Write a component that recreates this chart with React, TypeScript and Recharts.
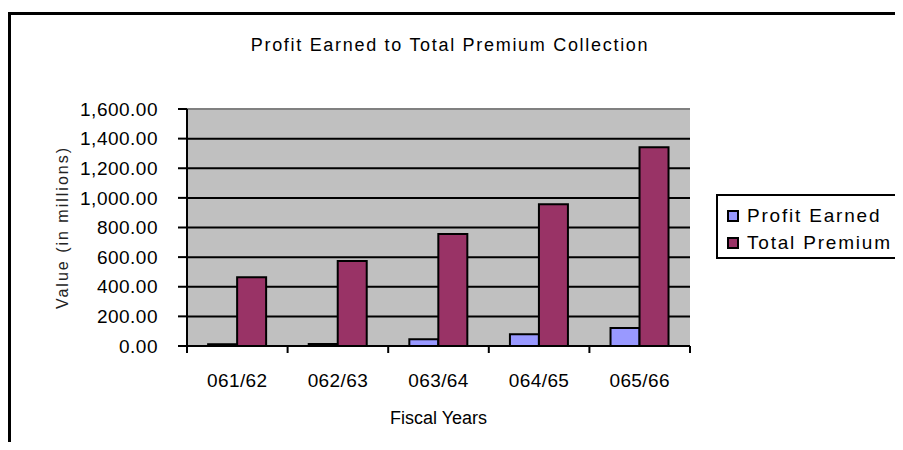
import { BarChart, Bar, XAxis, YAxis, CartesianGrid, ReferenceLine } from 'recharts';

const fiscalYears = ['061/62', '062/63', '063/64', '064/65', '065/66'];
const profitEarned = [12, 14, 45, 79, 122];
const totalPremium = [464, 574, 756, 957, 1341];
const yTicks = [0, 200, 400, 600, 800, 1000, 1200, 1400, 1600];

const seriesNames = ['Profit Earned', 'Total Premium'];
const seriesColors = ['#9999FF', '#993366'];

const data = fiscalYears.map((year, i) => ({
  year,
  profit: profitEarned[i],
  premium: totalPremium[i],
}));

const FONT = '"Liberation Sans", Arial, sans-serif';

const fmt = (v: number) =>
  v.toLocaleString('en-US', { minimumFractionDigits: 2, maximumFractionDigits: 2 });

function YLabel({ viewBox }: any) {
  const x = viewBox.x + 54;
  const y = viewBox.y + viewBox.height / 2;
  return (
    <text x={x} y={y} transform={`rotate(-90 ${x} ${y})`} textAnchor="middle" dominantBaseline="central"
      fontSize={16} letterSpacing={2} fill="#222" fontFamily={FONT}>
      Value (in millions)
    </text>
  );
}

function XLabel({ viewBox }: any) {
  const x = viewBox.x + viewBox.width / 2;
  return (
    <text x={x} y={viewBox.y + 72} textAnchor="middle" dominantBaseline="central"
      fontSize={18} fill="#000" fontFamily={FONT}>
      Fiscal Years
    </text>
  );
}

// category tick: label at band centre, tick marks at band edges
function YearTick({ x, y, payload, index, visibleTicksCount }: any) {
  const half = payload.offset || 0;
  const last = index === visibleTicksCount - 1;
  return (
    <g>
      <line x1={x - half} x2={x - half} y1={y} y2={y + 7} stroke="#000" strokeWidth={2} />
      {last && <line x1={x + half} x2={x + half} y1={y} y2={y + 7} stroke="#000" strokeWidth={2} />}
      <text x={x} y={y + 34} textAnchor="middle" dominantBaseline="central" fontSize={19}
        letterSpacing={0.4} fill="#000" fontFamily={FONT}>
        {payload.value}
      </text>
    </g>
  );
}

export default function App() {
  return (
    <div style={{ position: 'relative', width: 895, height: 434, fontFamily: FONT }}>
      <div style={{ position: 'absolute', left: 0, top: 4, width: 895, height: 430, borderTop: '3px solid #000', borderLeft: '3px solid #000', boxSizing: 'border-box' }} />
      <div style={{ position: 'absolute', left: 192, top: 27, width: 500, textAlign: 'center', fontSize: 18, letterSpacing: 1.7, color: '#000' }}>
        Profit Earned to Total Premium Collection
      </div>
      <div style={{ position: 'absolute', left: 0, top: 0 }}>
        <BarChart width={895} height={434} data={data} margin={{ top: 101, right: 213, bottom: 0, left: 0 }}
          barCategoryGap="21%" barGap={0}>
          <CartesianGrid vertical={false} fill="#C0C0C0" stroke="#000" strokeWidth={2} fillOpacity={1} />
          <XAxis dataKey="year" height={96} tickLine={false} tickSize={0} tickMargin={0}
            axisLine={{ stroke: '#000', strokeWidth: 2 }} tick={<YearTick />} interval={0} label={<XLabel />} />
          <YAxis width={179} domain={[0, 1600]} ticks={yTicks} tickFormatter={fmt} tickSize={9} tickMargin={20}
            tick={{ fontSize: 19, fill: '#000', letterSpacing: 0.5 }} axisLine={{ stroke: '#000', strokeWidth: 2 }}
            tickLine={{ stroke: '#000', strokeWidth: 2 }} label={<YLabel />} />
          <YAxis yAxisId="edge" orientation="right" width={0} domain={[0, 1600]} tick={false} tickLine={false}
            axisLine={{ stroke: '#808080', strokeWidth: 2 }} />
          <ReferenceLine y={1600} stroke="#808080" strokeWidth={2} />
          <Bar dataKey="profit" name={seriesNames[0]} fill={seriesColors[0]} stroke="#000" strokeWidth={2} isAnimationActive={false} />
          <Bar dataKey="premium" name={seriesNames[1]} fill={seriesColors[1]} stroke="#000" strokeWidth={2} isAnimationActive={false} />
        </BarChart>
      </div>
      <div style={{ position: 'absolute', left: 708, top: 186, width: 187, height: 65, border: '2px solid #000', borderRight: 'none', boxSizing: 'border-box', padding: '6px 0 0 9px', background: '#fff' }}>
        {seriesNames.map((name, i) => (
          <div key={name} style={{ display: 'flex', alignItems: 'center', height: 27, fontSize: 19, letterSpacing: 1.8, whiteSpace: 'nowrap' }}>
            <span style={{ width: 8, height: 8, background: seriesColors[i], border: '2px solid #000', marginRight: 8, display: 'inline-block', flexShrink: 0 }} />
            {name}
          </div>
        ))}
      </div>
    </div>
  );
}
